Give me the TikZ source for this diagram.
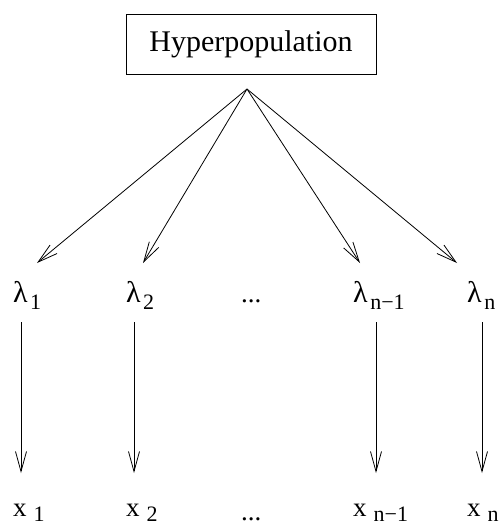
\documentclass[tikz,border=0pt]{standalone}
\usepackage{fontspec}
\setmainfont{Liberation Serif}
\usetikzlibrary{arrows.meta}

% symbol with a lowered, same-size index
\newcommand{\lsub}[2]{{\fontsize{30}{32}\selectfont λ}\hspace{2.5pt}\raisebox{-7pt}{#2}}
\newcommand{\xsub}[2]{{\fontsize{27}{29}\selectfont #1}\hspace{7pt}\raisebox{-5pt}{#2}}

\begin{document}
\begin{tikzpicture}[
  x=1pt, y=-1pt,
  hyp/.style={rectangle, draw, line width=0.9pt, minimum width=250pt,
              minimum height=60pt, inner sep=0pt, font=\fontsize{30}{32}\selectfont},
  lab/.style={anchor=base west, inner sep=0pt, font=\fontsize{22}{24}\selectfont},
  dots/.style={anchor=base west, inner sep=0pt, font=\fontsize{27}{29}\selectfont},
  arr/.style={-{Straight Barb[length=20pt,width=11pt]}, line width=0.8pt}
]
\useasboundingbox (0,0) rectangle (501,527);
% top node and the point the arrows leave from
\node[hyp] (hyper) at (251,44) {Hyperpopulation};
\coordinate (apex) at (247,89);
% parameter row
\node[lab]  (l1)    at (13,302)  {\lsub{}{1}};
\node[lab]  (l2)    at (126,302) {\lsub{}{2}};
\node[dots] (ldots) at (241,302) {...};
\node[lab]  (lnm)   at (353,302) {\lsub{}{n−1}};
\node[lab]  (ln)    at (467,302) {\lsub{}{n}};
% data row
\node[lab]  (x1)    at (13,516)  {\xsub{x}{1}};
\node[lab]  (x2)    at (126,516) {\xsub{x}{2}};
\node[dots] (xdots) at (241,520) {...};
\node[lab]  (xnm)   at (353,516) {\xsub{x}{n−1}};
\node[lab]  (xn)    at (467,516) {\xsub{x}{n}};
% arrow ends
\coordinate (t1) at (37,263);
\coordinate (t2) at (143,263);
\coordinate (tnm) at (360,263);
\coordinate (tn) at (457,263);
\coordinate (u1) at (21,322);   \coordinate (d1) at (21,473);
\coordinate (u2) at (134,322);  \coordinate (d2) at (134,473);
\coordinate (unm) at (376,322); \coordinate (dnm) at (376,473);
\coordinate (un) at (482,322);  \coordinate (dn) at (482,473);
\draw[arr] (apex) -- (t1);
\draw[arr] (apex) -- (t2);
\draw[arr] (apex) -- (tnm);
\draw[arr] (apex) -- (tn);
\draw[arr] (u1) -- (d1);
\draw[arr] (u2) -- (d2);
\draw[arr] (unm) -- (dnm);
\draw[arr] (un) -- (dn);
\end{tikzpicture}
\end{document}
